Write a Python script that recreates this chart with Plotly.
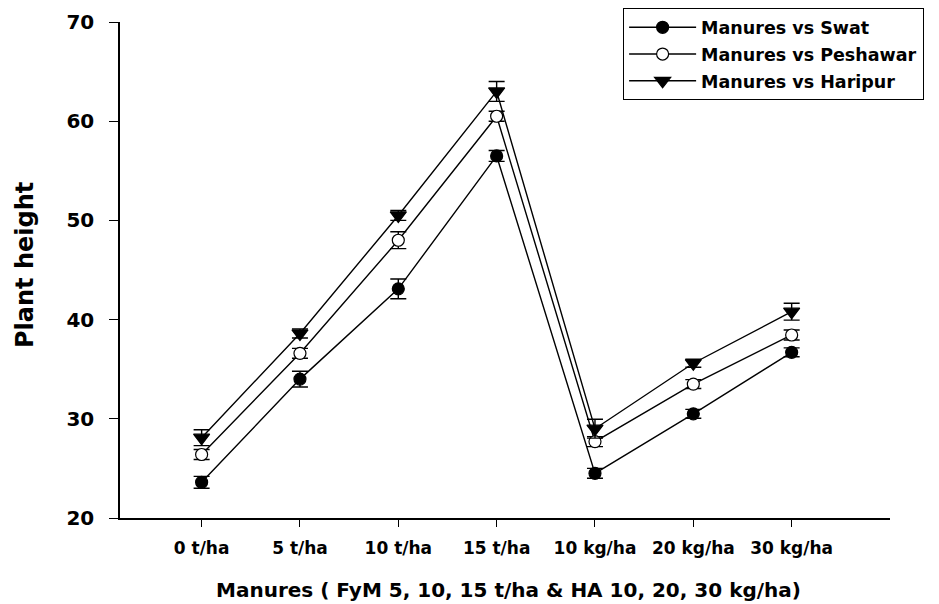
import plotly.graph_objects as go

categories = ["0 t/ha", "5 t/ha", "10 t/ha", "15 t/ha", "10 kg/ha", "20 kg/ha", "30 kg/ha"]
cat_pos = [0, 1, 2, 3, 4, 5, 6]

swat = [23.6, 34.0, 43.1, 56.5, 24.5, 30.5, 36.7]
swat_err = [0.6, 0.8, 1.0, 0.55, 0.5, 0.45, 0.45]

peshawar = [26.4, 36.6, 48.0, 60.5, 27.7, 33.5, 38.45]
peshawar_err = [0.5, 0.5, 0.85, 0.5, 0.5, 0.45, 0.5]

haripur = [28.1, 38.6, 50.5, 63.0, 29.0, 35.6, 40.8]
haripur_err = [0.8, 0.45, 0.5, 1.0, 0.95, 0.4, 0.85]

x_title = "Manures ( FyM 5, 10, 15 t/ha & HA 10, 20, 30 kg/ha)"
y_title = "Plant height"

series = [
    ("Manures vs Swat", swat, swat_err, "circle", "black", 12),
    ("Manures vs Peshawar", peshawar, peshawar_err, "circle", "white", 12),
    ("Manures vs Haripur", haripur, haripur_err, "triangle-down", "black", 14),
]

FONT = "DejaVu Sans"

fig = go.Figure()
for i, (name, vals, errs, sym, fill, size) in enumerate(series):
    fig.add_trace(go.Scatter(
        x=cat_pos, y=vals, name=name, mode="lines+markers",
        legendgroup=f"g{i}",
        line=dict(color="black", width=1.4),
        marker=dict(symbol=sym, size=size, color=fill,
                    line=dict(color="black", width=1.2)),
        error_y=dict(type="data", array=errs, visible=True,
                     color="black", thickness=1.4, width=8),
    ))

fig.update_layout(
    width=939, height=604,
    margin=dict(l=112, r=57, t=14, b=94, autoexpand=False),
    paper_bgcolor="white", plot_bgcolor="white",
    font=dict(family=FONT, color="black", size=17, weight="bold"),
    showlegend=True,
    legend=dict(
        x=0.653, y=1.028, xanchor="left", yanchor="top",
        bordercolor="black", borderwidth=1.3, bgcolor="white",
        font=dict(family=FONT, size=17.5, color="black", weight="bold"),
        tracegroupgap=1, itemwidth=67, entrywidth=300,
    ),
    xaxis=dict(
        range=[-0.83, 7.0], tickmode="array", tickvals=cat_pos, ticktext=categories,
        showline=True, linecolor="black", linewidth=1.5,
        ticks="outside", ticklen=7, tickwidth=1.3, tickcolor="black",
        showgrid=False, zeroline=False, automargin=False,
        tickfont=dict(family=FONT, size=17, weight="bold"),
        ticklabelstandoff=7,
    ),
    yaxis=dict(
        range=[20, 70], dtick=10, tick0=20,
        showline=True, linecolor="black", linewidth=1.5,
        ticks="outside", ticklen=9, tickwidth=1.3, tickcolor="black",
        showgrid=False, zeroline=False, automargin=False,
        tickfont=dict(family=FONT, size=20, weight="bold"),
        ticklabelstandoff=11,
    ),
    annotations=[
        dict(text=x_title, xref="paper", yref="paper", x=0.505, y=-0.1459,
             xanchor="center", yanchor="middle", showarrow=False,
             font=dict(family=FONT, size=20, weight="bold", color="black")),
        dict(text=y_title, xref="paper", yref="paper", x=-0.1234, y=0.51,
             xanchor="center", yanchor="middle", showarrow=False, textangle=-90,
             font=dict(family=FONT, size=24, weight="bold", color="black")),
    ],
)

fig.write_html("out.html")
